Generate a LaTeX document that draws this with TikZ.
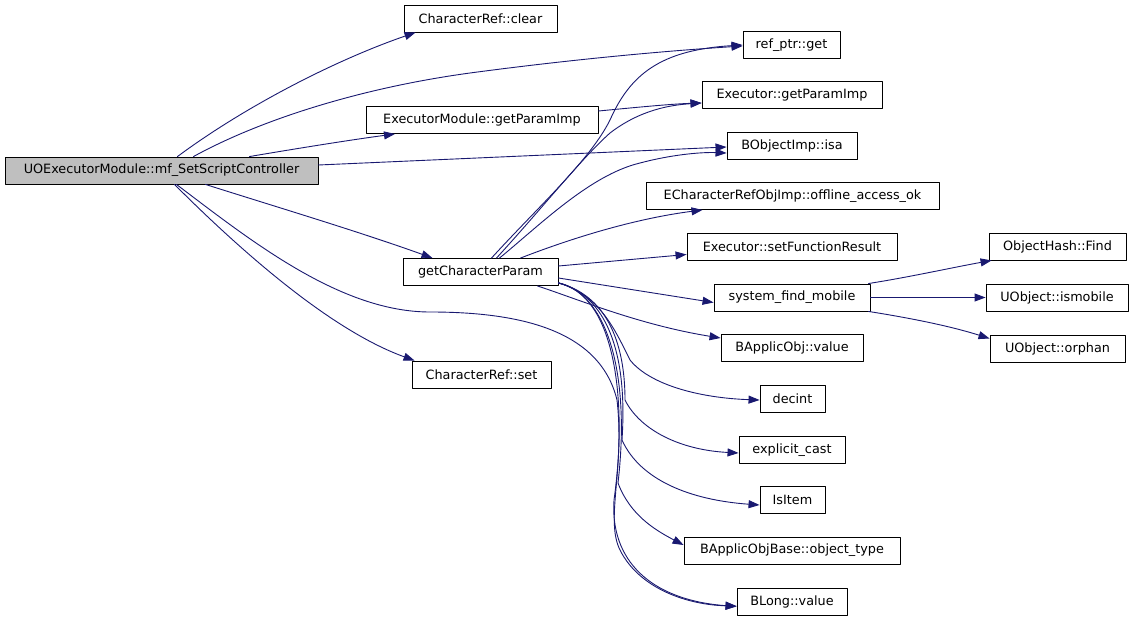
\documentclass[tikz,border=0pt]{standalone}
\usepackage{fontspec}
\setmainfont{DejaVu Sans}
\usetikzlibrary{arrows.meta}
\definecolor{edgeblue}{HTML}{191970}
\tikzset{
  fn/.style={draw=black, line width=0.9pt, minimum height=27pt, inner sep=0pt, font=\fontsize{12.8}{14}\selectfont},
  call/.style={draw=edgeblue, line width=0.9pt, -{Triangle[length=11pt,width=8pt]}, fill=none},
}
\begin{document}
\begin{tikzpicture}[x=1pt, y=-1pt, line cap=round, line join=round]
  \useasboundingbox (0,0) rectangle (1133,620);
  % callers and first level
  \node[fn, fill=black!25, minimum width=313pt] (main) at (161.5,170.5) {UOExecutorModule::mf\_SetScriptController};
  \node[fn, minimum width=153pt] (clear) at (480.5,18.5) {CharacterRef::clear};
  \node[fn, minimum width=232pt] (emgpi) at (482,120) {ExecutorModule::getParamImp};
  \node[fn, minimum width=155pt] (gcp) at (480.5,272) {getCharacterParam};
  \node[fn, minimum width=139pt] (crset) at (481.5,374.5) {CharacterRef::set};
  % second level
  \node[fn, minimum width=97pt] (refget) at (791.5,45) {ref\_ptr::get};
  \node[fn, minimum width=180pt] (egpi) at (792,95) {Executor::getParamImp};
  \node[fn, minimum width=130pt] (isa) at (792,146) {BObjectImp::isa};
  \node[fn, minimum width=293pt] (offline) at (792.5,196) {ECharacterRefObjImp::offline\_access\_ok};
  \node[fn, minimum width=210pt] (setres) at (792,246.5) {Executor::setFunctionResult};
  \node[fn, minimum width=156pt] (sfm) at (792,297.5) {system\_find\_mobile};
  \node[fn, minimum width=142pt] (bav) at (792,348) {BApplicObj::value};
  \node[fn, minimum width=65pt] (decint) at (792.5,398.5) {decint};
  \node[fn, minimum width=106pt] (expl) at (792,450) {explicit\_cast};
  \node[fn, minimum width=65pt] (isitem) at (792.5,500) {IsItem};
  \node[fn, minimum width=216pt] (objtype) at (792,550.5) {BApplicObjBase::object\_type};
  \node[fn, minimum width=110pt] (blong) at (792,601.5) {BLong::value};
  % third level
  \node[fn, minimum width=137pt] (ohfind) at (1057.5,246.5) {ObjectHash::Find};
  \node[fn, minimum width=142pt] (ismobile) at (1057,297.5) {UObject::ismobile};
  \node[fn, minimum width=135pt] (orphan) at (1057.5,348.5) {UObject::orphan};

  % edges out of main
  \draw[call] ([xshift=16pt]main.north) .. controls (240,110) and (330,62) .. ([xshift=12pt]clear.south west);
  \draw[call] ([xshift=32pt]main.north) .. controls (260,120) and (360,88) .. (470,73)
    .. controls (560,61) and (650,52) .. ([yshift=-1pt]refget.west);
  \draw[call] ([xshift=88pt]main.north) .. controls (300,148) and (350,140) .. ([xshift=-87pt]emgpi.south);
  \draw[call] ([yshift=5.5pt]main.east) -- ([yshift=-1pt]isa.west);
  \draw[call] ([xshift=44pt]main.south) .. controls (280,208) and (360,232) .. ([xshift=-48pt]gcp.north);
  \draw[call] ([xshift=13pt]main.south) .. controls (240,250) and (330,330) .. ([xshift=3pt]crset.north west);
  \draw[call] ([xshift=15pt]main.south) .. controls (250,240) and (340,312) .. (430,312)
    .. controls (520,312) and (600,330) .. (617,400)
    .. controls (625,470) and (605,520) .. (620,550)
    .. controls (640,590) and (690,605) .. ([yshift=-4.5pt]blong.west);

  \draw[call] ([yshift=9pt]emgpi.east) .. controls (630,108) and (670,104) .. ([yshift=-8pt]egpi.west);

  % edges out of getCharacterParam
  \draw[call] ([xshift=11pt]gcp.north) .. controls (540,205) and (590,160) .. (610,120)
    .. controls (630,75) and (660,50) .. (refget.west);
  \draw[call] ([xshift=16pt]gcp.north) .. controls (545,205) and (580,160) .. (610,133)
    .. controls (640,110) and (670,105) .. ([yshift=-8pt]egpi.west);
  \draw[call] ([xshift=19pt]gcp.north) .. controls (540,225) and (590,175) .. (640,163)
    .. controls (670,155) and (700,152) .. ([yshift=-7pt]isa.west);
  \draw[call] ([xshift=40pt]gcp.north) .. controls (580,235) and (640,218) .. ([xshift=-90pt]offline.south);
  \draw[call] ([yshift=6pt]gcp.east) -- ([yshift=-8pt]setres.west);
  \draw[call] ([yshift=-6pt]gcp.east) -- ([yshift=-5pt]sfm.west);
  \draw[call] ([xshift=57pt]gcp.south) .. controls (580,300) and (640,325) .. ([yshift=10pt]bav.west);
  \draw[call] ([yshift=3pt]gcp.south east) .. controls (600,295) and (615,330) .. (630,360)
    .. controls (650,385) and (700,398) .. ([yshift=-1.5pt]decint.west);
  \draw[call] ([yshift=3pt]gcp.south east) .. controls (605,295) and (625,340) .. (625,400)
    .. controls (640,430) and (680,450) .. ([yshift=-3pt]expl.west);
  \draw[call] ([yshift=3pt]gcp.south east) .. controls (605,295) and (628,350) .. (622,440)
    .. controls (640,480) and (690,500) .. ([yshift=-5pt]isitem.west);
  \draw[call] ([yshift=3pt]gcp.south east) .. controls (610,295) and (630,380) .. (618,483)
    .. controls (630,515) and (655,530) .. ([yshift=5.5pt]objtype.west);
  \draw[call] ([yshift=3pt]gcp.south east) .. controls (615,295) and (628,400) .. (614,500)
    .. controls (610,560) and (650,600) .. ([yshift=-5pt]blong.west);

  % edges out of system_find_mobile
  \draw[call] ([xshift=-2pt]sfm.north east) .. controls (910,277) and (950,268) .. ([xshift=3pt]ohfind.south west);
  \draw[call] (sfm.east) -- (ismobile.west);
  \draw[call] ([xshift=-2pt]sfm.south east) .. controls (910,318) and (950,326) .. ([yshift=10pt]orphan.west);
\end{tikzpicture}
\end{document}
